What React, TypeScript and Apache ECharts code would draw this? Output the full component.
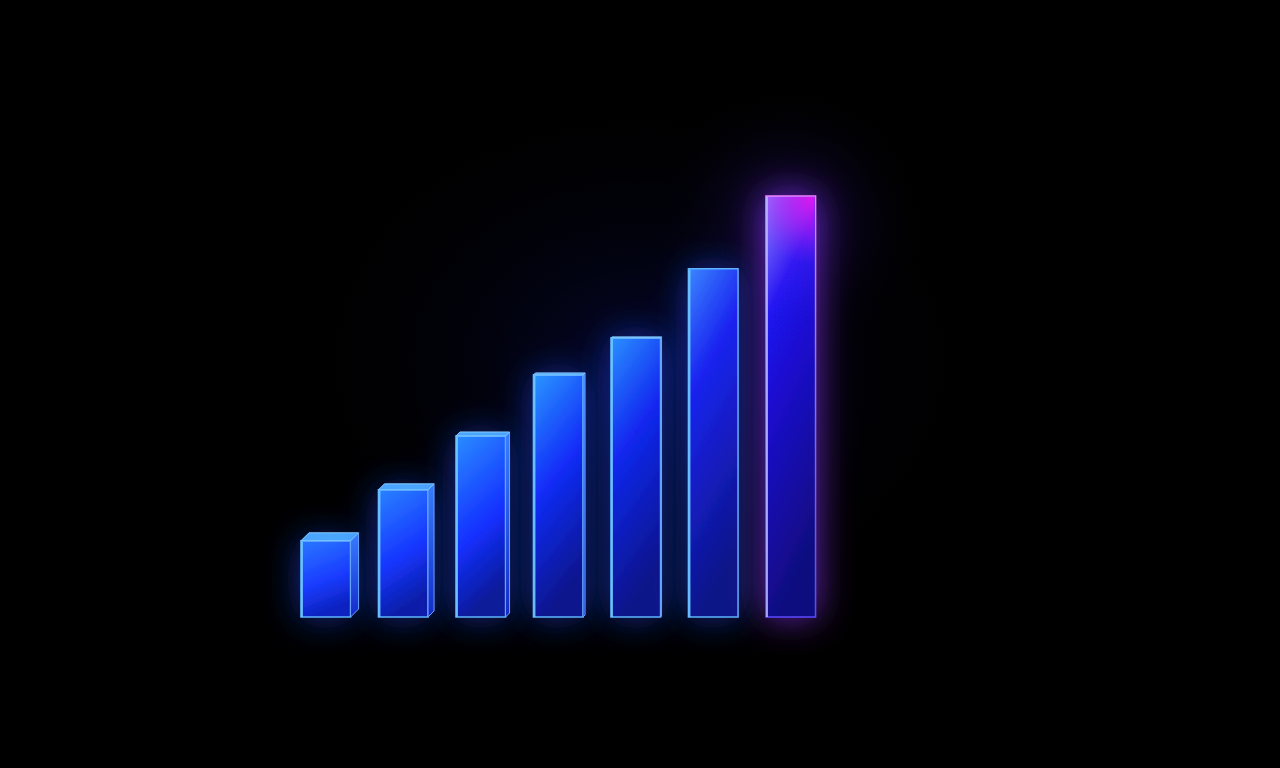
import React, { useEffect, useRef } from "react";
import * as echarts from "echarts";

const categories = ["1", "2", "3", "4", "5", "6", "7"];
const values = [18.1, 30.2, 43.0, 57.5, 66.3, 82.7, 100];
const topColors = ["#2a78ff", "#2a82ff", "#2a8cff", "#2a96ff", "#2a90ff", "#3a86ff", "#8a90ff"];
const midColors = ["#1a3cff", "#1636ff", "#1430ff", "#122cf8", "#1228f0", "#1a24f0", "#2012f0"];
const bottomColors = ["#0c22c0", "#0b1ea8", "#0a1a98", "#0a168c", "#0a1488", "#0c1486", "#100e80"];
const depths = [8, 6, 4, 2, 1, 0, 0];

export default function App() {
  const ref = useRef<HTMLDivElement>(null);
  useEffect(() => {
    if (!ref.current) return;
    const chart = echarts.init(ref.current, undefined, { renderer: "svg" });
    chart.setOption({
      animation: false,
      backgroundColor: "#000000",
      graphic: [
        {
          type: "ellipse",
          shape: { cx: 640, cy: 360, rx: 360, ry: 280 },
          style: {
            fill: new echarts.graphic.RadialGradient(0.5, 0.5, 0.5, [
              { offset: 0, color: "rgba(10,14,90,0.45)" },
              { offset: 1, color: "rgba(0,0,0,0)" },
            ]),
          },
          z: -10,
        },
        {
          type: "circle",
          shape: { cx: 790, cy: 220, r: 140 },
          style: {
            fill: new echarts.graphic.RadialGradient(0.5, 0.5, 0.5, [
              { offset: 0, color: "rgba(50,24,150,0.45)" },
              { offset: 1, color: "rgba(0,0,0,0)" },
            ]),
          },
          z: -9,
        },
      ],
      grid: { left: 287, right: 450.5, top: 196, bottom: 151 },
      xAxis: { type: "category", data: categories, show: false },
      yAxis: { type: "value", min: 0, max: 100, show: false },
      series: [
        {
          type: "custom",
          data: values.map((v, i) => [i, v]),
          renderItem: (params: any, api: any) => {
            const idx = api.value(0);
            const val = api.value(1);
            const base = api.coord([idx, 0]);
            const top = api.coord([idx, val]);
            const band = api.size([1, 0])[0];
            const w = band * 0.64;
            const x0 = base[0] - w / 2;
            const x1 = base[0] + w / 2;
            const y0 = top[1];
            const y1 = base[1];
            const h = y1 - y0;
            const d = depths[idx];
            const isLast = idx === values.length - 1;
            const midStop = Math.min(0.6, 120 / h);
            const frontFill = new echarts.graphic.LinearGradient(0, 0, 0.25, 1, [
              { offset: 0, color: topColors[idx] },
              { offset: midStop, color: midColors[idx] },
              { offset: 1, color: bottomColors[idx] },
            ]);
            const edge = isLast
              ? new echarts.graphic.LinearGradient(0, 0, 0, 1, [
                  { offset: 0, color: "#f27cff" },
                  { offset: 0.4, color: "#9a6cff" },
                  { offset: 1, color: "#5a48ff" },
                ])
              : "#5fb4ff";
            const children: any[] = [
              {
                type: "rect",
                shape: { x: x0, y: y0, width: w, height: h },
                style: {
                  fill: frontFill,
                  stroke: edge,
                  lineWidth: 1.5,
                  shadowBlur: 36,
                  shadowColor: isLast ? "rgba(140,50,255,0.75)" : "rgba(30,70,255,0.6)",
                },
              },
            ];
            if (isLast) {
              children.push({
                type: "rect",
                shape: { x: x0 + 1, y: y0 + 1, width: w - 2, height: 170 },
                style: {
                  fill: new echarts.graphic.RadialGradient(
                    x1, y0, 125,
                    [
                      { offset: 0, color: "rgba(240,20,240,0.95)" },
                      { offset: 0.3, color: "rgba(200,30,245,0.55)" },
                      { offset: 0.55, color: "rgba(150,40,250,0.15)" },
                      { offset: 1, color: "rgba(120,40,255,0)" },
                    ],
                    true
                  ),
                },
              });
            }
            children.push({
              type: "line",
              shape: { x1: x0 + 1, y1: y0 + 1, x2: x0 + 1, y2: y1 },
              style: { stroke: isLast ? "#b0b4ff" : "#70c8ff", lineWidth: 2, opacity: 0.9 },
            });
            if (d > 0) {
              children.push(
                {
                  type: "polygon",
                  shape: { points: [[x1, y0], [x1 + d, y0 - d], [x1 + d, y1 - d], [x1, y1]] },
                  style: {
                    fill: new echarts.graphic.LinearGradient(0, 0, 0, 1, [
                      { offset: 0, color: "#3a80ff" },
                      { offset: 1, color: "#1428c8" },
                    ]),
                    stroke: "#6aa8ff",
                    lineWidth: 1,
                  },
                },
                {
                  type: "polygon",
                  shape: { points: [[x0, y0], [x0 + d, y0 - d], [x1 + d, y0 - d], [x1, y0]] },
                  style: { fill: "#4aa6ff", stroke: "#86ccff", lineWidth: 1 },
                }
              );
            }
            return { type: "group", children };
          },
        },
      ],
    });
    return () => chart.dispose();
  }, []);
  return <div ref={ref} style={{ width: 1280, height: 768, position: "absolute", left: 0, top: 0 }} />;
}
